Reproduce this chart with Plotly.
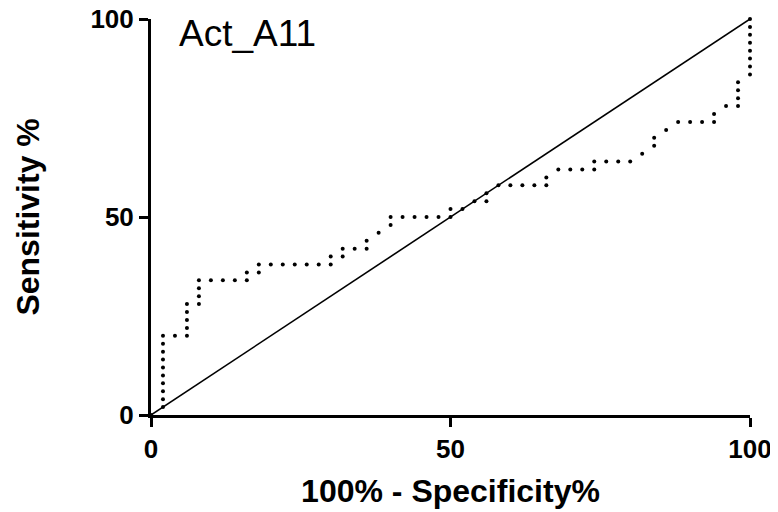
import plotly.graph_objects as go

# ROC points (100% - specificity %, sensitivity %)
fpr = [0, 2, 2, 2, 2, 2, 2, 2, 2, 2, 2, 4, 6, 6, 6, 6, 6, 8, 8, 8, 8,
       10, 12, 14, 16, 16, 18, 18, 20, 22, 24, 26, 28, 30, 30, 32, 32, 34, 36, 36,
       38, 40, 40, 42, 44, 46, 48, 50, 50, 52, 54, 56, 56, 58, 60, 62, 64, 66, 66,
       68, 70, 72, 74, 74, 76, 78, 80, 82, 84, 84, 86, 88, 90, 92, 94, 94,
       96, 98, 98, 98, 98, 100, 100, 100, 100, 100, 100, 100, 100]
tpr = [0, 2, 4, 6, 8, 10, 12, 14, 16, 18, 20, 20, 20, 22, 24, 26, 28, 28, 30, 32, 34,
       34, 34, 34, 34, 36, 36, 38, 38, 38, 38, 38, 38, 38, 40, 40, 42, 42, 42, 44,
       46, 48, 50, 50, 50, 50, 50, 50, 52, 52, 54, 54, 56, 58, 58, 58, 58, 58, 60,
       62, 62, 62, 62, 64, 64, 64, 64, 66, 68, 70, 72, 74, 74, 74, 74, 76,
       78, 78, 80, 82, 84, 86, 88, 90, 92, 94, 96, 98, 100]

ref_x = [0, 100]
ref_y = [0, 100]

FONT = "Arial, Liberation Sans, sans-serif"

fig = go.Figure()

# line of identity
fig.add_trace(go.Scatter(x=ref_x, y=ref_y, mode="lines",
                         line=dict(color="black", width=1.6),
                         showlegend=False, hoverinfo="skip"))

# ROC curve drawn as small dots
fig.add_trace(go.Scatter(x=fpr, y=tpr, mode="markers",
                         marker=dict(color="black", size=4),
                         cliponaxis=False, showlegend=False))

fig.add_annotation(x=4.3, y=96.3, xref="x", yref="y", text="Act_A11",
                   showarrow=False, xanchor="left", yanchor="middle",
                   font=dict(family=FONT, size=37, color="black"))

# y axis title as a rotated annotation so it can sit further left
fig.add_annotation(x=-0.206, y=0.5, xref="paper", yref="paper",
                   text="<b>Sensitivity %</b>", textangle=-90,
                   showarrow=False, xanchor="center", yanchor="middle",
                   font=dict(family=FONT, size=32, color="black"))

axis_common = dict(
    range=[0, 100],
    tickvals=[0, 50, 100],
    showline=True, linecolor="black", linewidth=3,
    ticks="outside", ticklen=9, tickwidth=3, tickcolor="black",
    showgrid=False, zeroline=False,
    ticklabeloverflow="allow",
    tickfont=dict(family=FONT, size=26, color="black", weight="bold"),
)

fig.update_xaxes(**axis_common,
                 title=dict(text="<b>100% - Specificity%</b>", standoff=17,
                            font=dict(family=FONT, size=32, color="black")))
fig.update_yaxes(**axis_common)

# page body has an 8px margin, so the plot area is shifted back by that
fig.update_layout(
    width=778, height=512,
    margin=dict(l=143, r=36, t=11, b=105, autoexpand=False),
    plot_bgcolor="white", paper_bgcolor="white",
)

fig.write_html("out.html")
